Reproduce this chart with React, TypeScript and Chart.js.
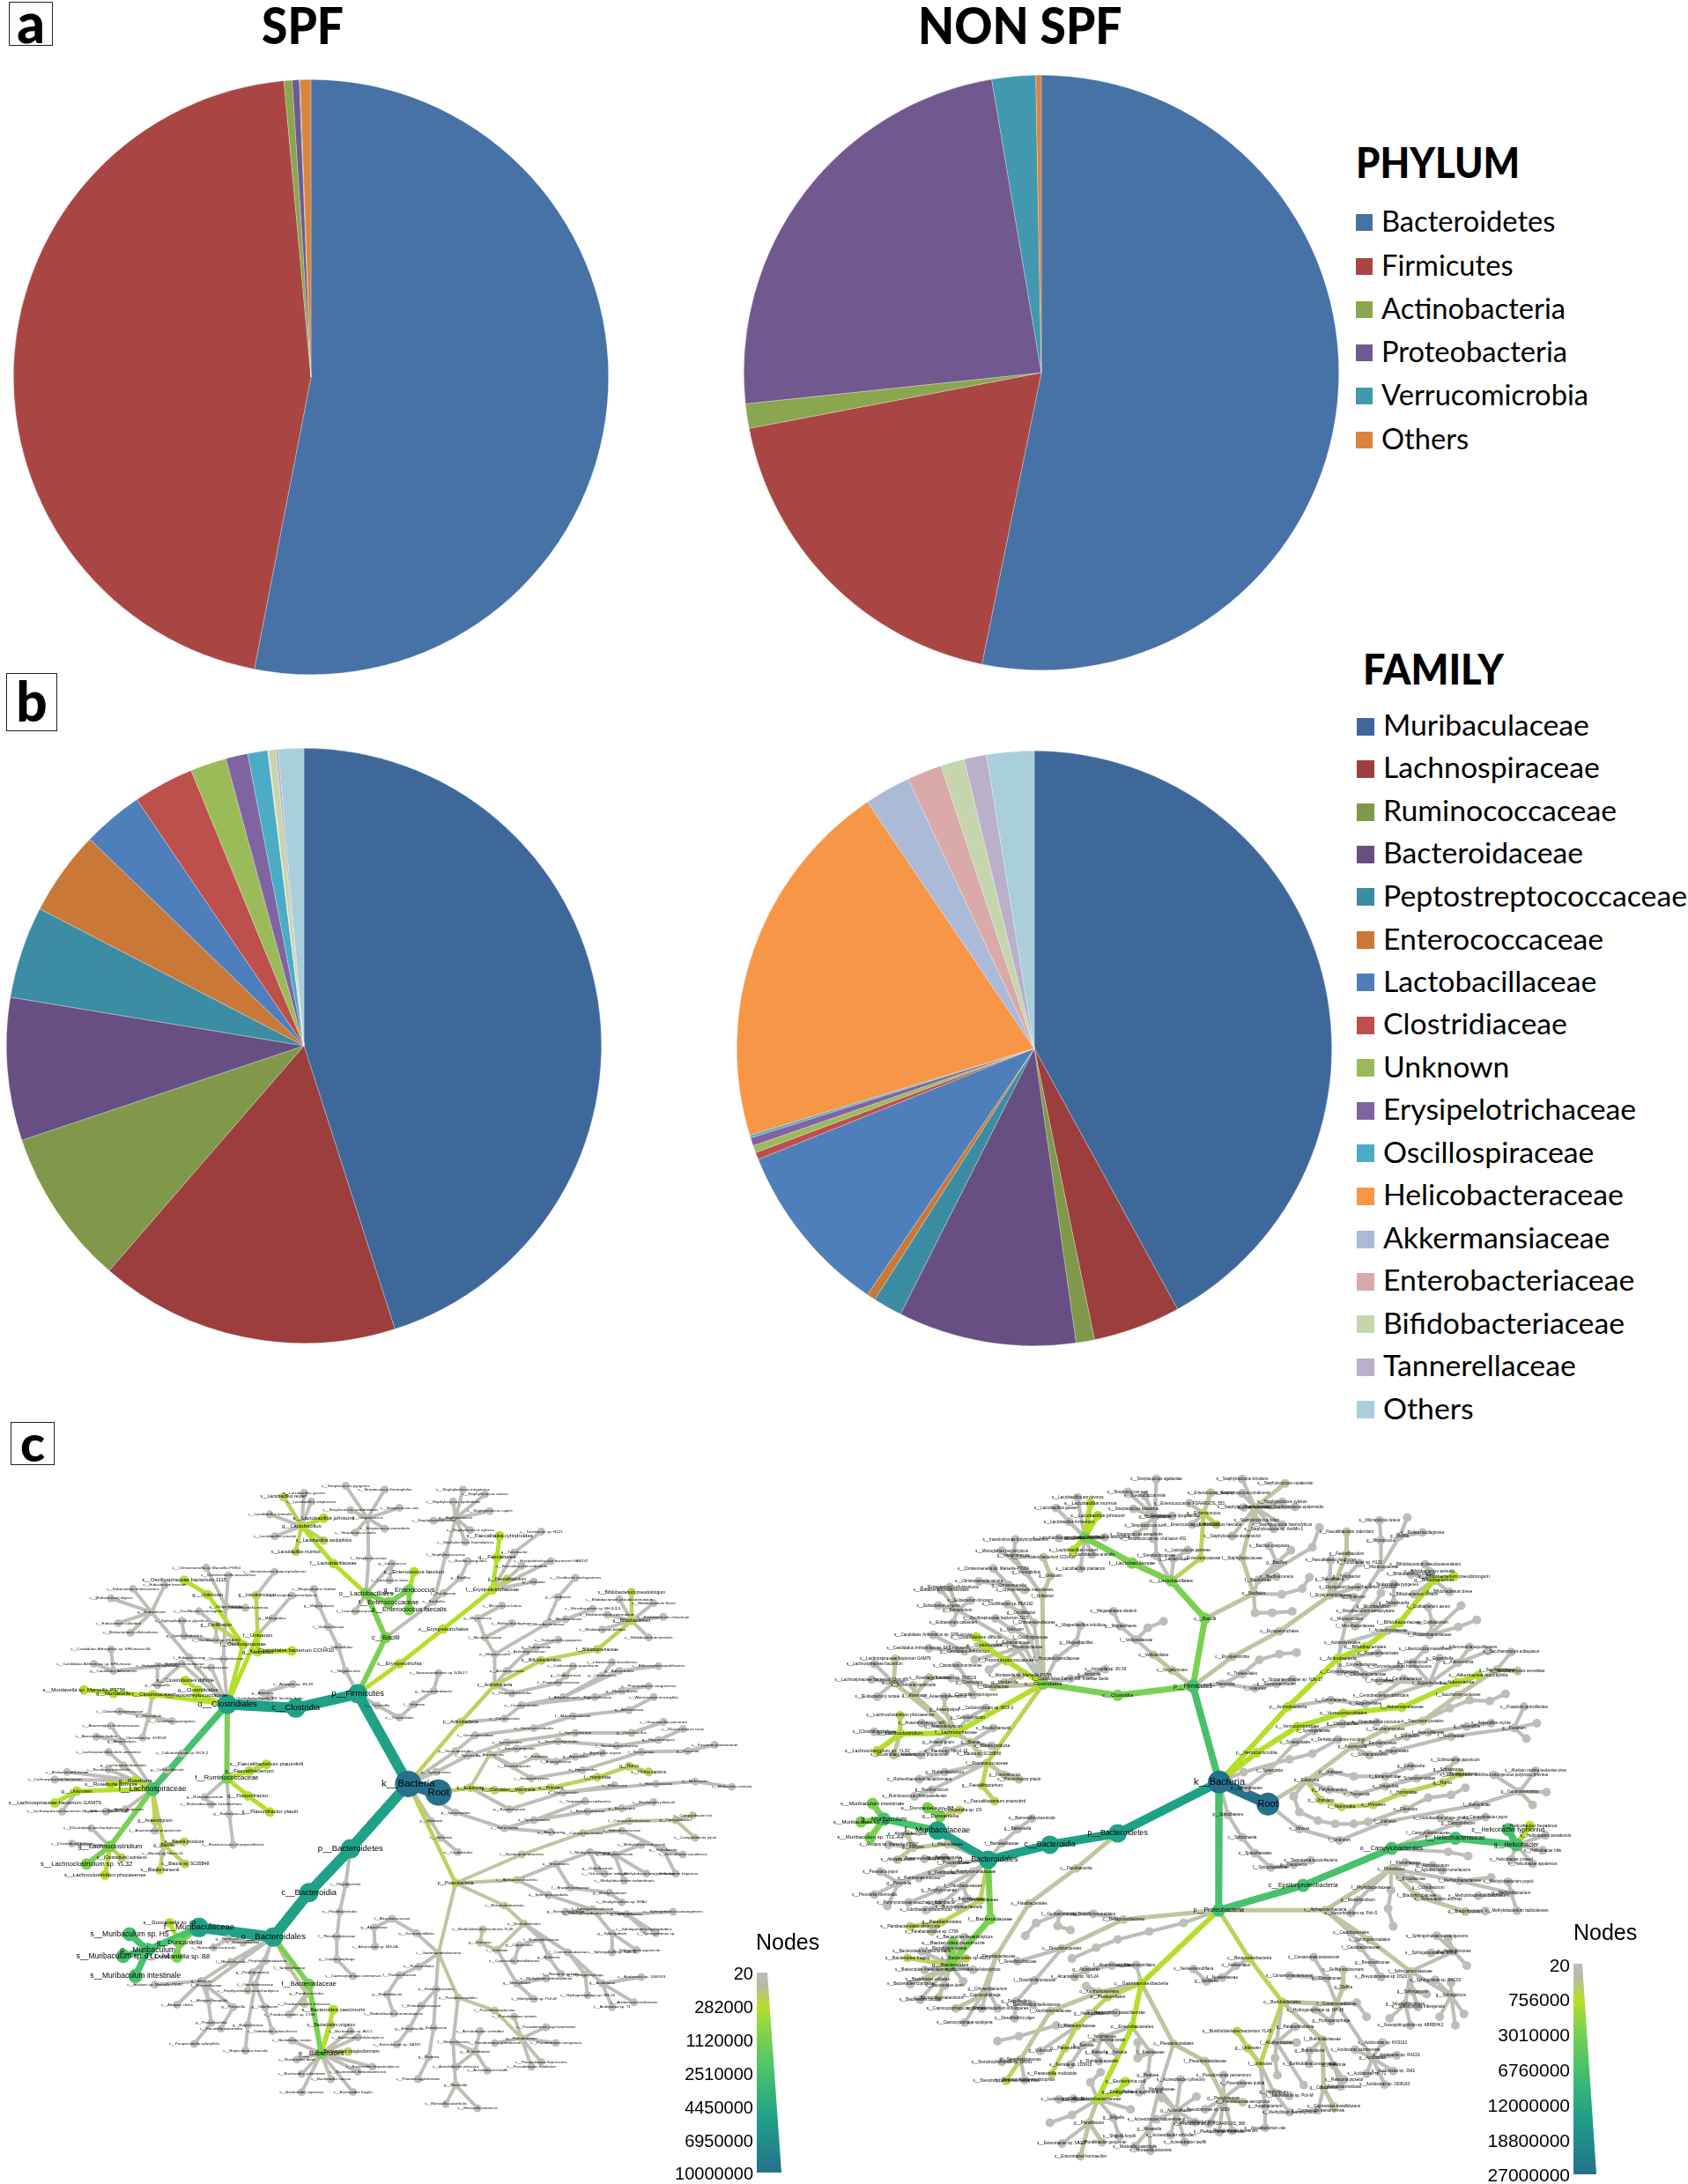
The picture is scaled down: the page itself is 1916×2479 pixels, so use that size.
import React, { useEffect, useRef } from "react";
import { Chart, registerables } from "chart.js";

Chart.register(...registerables);

/* ---------- pie data (percent of reads) ---------- */
const phylumLabels = ["Bacteroidetes", "Firmicutes", "Actinobacteria", "Proteobacteria", "Verrucomicrobia", "Others"];
const phylumSpf = [53.05, 45.5, 0.44, 0.38, 0.05, 0.58];
const phylumNonSpf = [53.2, 18.8, 1.33, 24.0, 2.37, 0.3];
const phylumColors = ["#4672A6", "#A94644", "#8AA64E", "#71588F", "#4198AF", "#DB843D"];

const familyLabels = ["Muribaculaceae", "Lachnospiraceae", "Ruminococcaceae", "Bacteroidaceae", "Peptostreptococcaceae", "Enterococcaceae", "Lactobacillaceae", "Clostridiaceae", "Unknown", "Erysipelotrichaceae", "Oscillospiraceae", "Helicobacteraceae", "Akkermansiaceae", "Enterobacteriaceae", "Bifidobacteriaceae", "Tannerellaceae", "Others"];
const familySpf = [45.06, 16.3, 8.5, 7.75, 5.0, 4.6, 3.3, 3.3, 1.96, 1.2, 1.08, 0.02, 0.02, 0.02, 0.38, 0.13, 1.38];
const familyNonSpf = [42.0, 4.75, 1.0, 9.67, 1.58, 0.47, 9.44, 0.39, 0.39, 0.44, 0.14, 20.25, 2.5, 1.9, 1.28, 1.22, 2.57];
const familyColors = ["#3F689A", "#9C3E3D", "#7F984A", "#684F83", "#3C8CA3", "#C97838", "#4F7FBB", "#BD4F4D", "#9BBB59", "#8064A2", "#4BACC6", "#F79646", "#AABAD7", "#D9AAA9", "#C6D6AC", "#BAB0C9", "#A9CEDC"];

/* ---------- colour key ---------- */
const spfKeyTicks = ["20", "282000", "1120000", "2510000", "4450000", "6950000", "10000000"];
const nonSpfKeyTicks = ["20", "756000", "3010000", "6760000", "12000000", "18800000", "27000000"];
const tierColors = ["#BEBEB8", "#C0C4A0", "#BFD05C", "#B5DE2B", "#7AD151", "#47C16E", "#1FA187", "#26708C"];

/* ---------- taxonomic trees: [label, x, y, abundance tier, children] ---------- */
type T = [string, number, number, number, T[]?];

const spfTree: T = ["Root", 870, 775, 7, [
  ["k__Bacteria", 808, 757, 7, [
    ["p__Firmicutes", 705, 568, 6, [
      ["c__Clostridia", 578, 598, 6, [
        ["o__Clostridiales", 438, 590, 6, [
          ["f__Lachnospiraceae", 285, 768, 5, [
            ["g__Lachnoclostridium", 198, 888, 4, [
              ["s__Lachnoclostridium sp. YL32", 150, 925, 4],
              ["s__Lachnoclostridium phocaeense", 188, 948, 3],
              ["s__[Clostridium] scindens", 222, 912, 2],
              ["s__[Clostridium] bolteae", 120, 882, 0],
              ["s__[Clostridium] saccharolyticum", 160, 850, 0]]],
            ["g__Blautia", 308, 885, 2, [
              ["s__Blautia hansenii", 300, 938, 2],
              ["s__Blautia sp. SC05B48", 352, 925, 2],
              ["s__Blautia producta", 350, 878, 2],
              ["s__Blautia sp. Nbm1-15", 305, 903, 0]]],
            ["g__Anaerotignum", 290, 835, 2, [["s__Anaerotignum propionicum", 290, 855, 0]]],
            ["g__Anaerobutyricum", 230, 810, 0, [["s__Anaerobutyricum hallii", 190, 815, 0]]],
            ["g__Unknown", 130, 772, 3, [
              ["s__Lachnospiraceae bacterium GAM79", 85, 797, 3],
              ["s__Lachnospiraceae bacterium Choco86", 100, 815, 0]]],
            ["g__Roseburia", 250, 750, 3, [
              ["s__Roseburia hominis", 200, 758, 3],
              ["s__Roseburia intestinalis", 195, 727, 0],
              ["s__[Eubacterium] rectale", 110, 732, 0],
              ["s__Lachnospiraceae bacterium", 85, 748, 0]]],
            ["g__Lachnoanaerobaculum", 225, 718, 0, [["s__Lachnoanaerobaculum umeaense", 195, 690, 0]]],
            ["g__Cellulosilyticum", 315, 728, 0, [["s__Cellulosilyticum sp. WCF-2", 345, 693, 0]]],
            ["g__Anaerostipes", 222, 668, 0, [
              ["s__Anaerostipes hadrus", 170, 658, 0],
              ["s__Anaerostipes rhamnosivorans", 200, 635, 0]]]]],
          ["f__Ruminococcaceae", 437, 745, 4, [
            ["g__Faecalibacterium", 483, 730, 3, [["s__Faecalibacterium prausnitzii", 518, 716, 3]]],
            ["g__Flavonifractor", 480, 782, 3, [["s__Flavonifractor plautii", 525, 816, 3]]],
            ["g__Ruthenibacterium", 392, 785, 0, [["s__Ruthenibacterium lactatiformans", 405, 800, 0]]],
            ["g__Ruminococcus", 442, 820, 0, [["s__Ruminococcus champanellensis", 450, 885, 0]]]]],
          ["f__Peptostreptococcaceae", 375, 572, 3, [
            ["g__Clostridioides", 378, 560, 3, [["s__Clostridioides difficile", 352, 540, 3]]]]],
          ["f__Clostridiaceae", 285, 570, 3, [
            ["g__Mordavella", 205, 567, 3, [["s__Mordavella sp. Marseille-P3756", 145, 560, 3]]],
            ["g__Clostridium", 277, 615, 0, [
              ["s__Clostridium bornimense", 218, 605, 0],
              ["s__Clostridium sporogenes", 325, 625, 0],
              ["s__Clostridium sp. SY8519", 265, 660, 0]]]]],
          ["Clostridiales Family XIII. Incertae Sedis", 525, 577, 0, [
            ["g__Aminipila", 510, 566, 0, [["s__Aminipila sp. JN-39", 572, 548, 0]]]]],
          ["f__Eubacteriaceae", 360, 492, 0, [
            ["g__Eubacterium", 283, 397, 0, [
              ["s__Eubacterium callanderi", 215, 420, 0],
              ["s__[Eubacterium] cellulosolvens", 240, 440, 0],
              ["s__[Eubacterium] eligens", 200, 368, 0],
              ["s__Eubacterium maltosivorans", 245, 348, 0],
              ["s__Eubacterium limosum", 310, 340, 0]]]]],
          ["f__Hungateiclostridiaceae", 345, 505, 0, [
            ["g__Hungatella", 295, 550, 0, [["s__Hungatella hathewayi", 295, 510, 0]]],
            ["g__Candidatus Arthromitus", 205, 520, 0, [
              ["s__Candidatus Arthromitus sp. SFB-mouse", 165, 505, 0],
              ["s__Candidatus Arthromitus sp. SFB-mouse-NL", 200, 475, 0]]]]],
          ["f__Peptococcaceae", 405, 513, 0],
          ["f__Christensenellaceae", 430, 495, 0, [
            ["g__Christensenella", 435, 385, 0, [
              ["s__Christensenella sp. Marseille-P3954", 395, 304, 0],
              ["s__Christensenella massiliensis", 440, 320, 0],
              ["s__Christensenella minuta", 475, 388, 0]]]]],
          ["f__Oscillospiraceae", 470, 465, 3, [
            ["g__Unknown", 398, 360, 3, [["s__Oscillospiraceae bacterium J115", 350, 330, 3]]],
            ["g__Oscillibacter", 415, 425, 2, [
              ["s__Oscillibacter valericigenes", 380, 395, 0],
              ["s__Oscillibacter sp. PEA192", 415, 455, 0]]],
            ["g__Syntrophobotulus", 350, 447, 0, [["s__Syntrophobotulus glycolicus", 345, 415, 0]]]]],
          ["f__Unknown", 500, 445, 3, [
            ["g__Intestinimonas", 497, 362, 2, [["s__Intestinimonas butyriciproducens", 535, 312, 0]]],
            ["g__Monoglobus", 530, 410, 0, [["s__Monoglobus pectinilyticus", 570, 362, 0]]],
            ["g__Unknown", 500, 480, 3, [["s__Clostridiales bacterium CCNA10", 570, 478, 3]]]]]]]]],
      ["c__Tissierellia", 745, 593, 0, [
        ["o__Tissierellales", 790, 618, 0, [
          ["f__Unknown", 820, 590, 0, [
            ["g__Sporanaerobacter", 860, 562, 0, [["s__Sporanaerobacter sp. NJN-17", 870, 525, 0]]]]]]]]],
      ["c__Negativicutes", 680, 520, 0, [
        ["o__Veillonellales", 665, 470, 0, [
          ["f__Veillonellaceae", 645, 428, 0, [
            ["g__Megasphaera", 625, 383, 0, [["s__Megasphaera elsdenii", 615, 348, 0]]]]]]]]],
      ["c__Erysipelotrichia", 790, 505, 3, [
        ["o__Erysipelotrichales", 880, 432, 3, [
          ["f__Erysipelotrichaceae", 980, 350, 3, [
            ["g__Faecalibaculum", 1010, 328, 2, [["s__Faecalibaculum rodentium", 1040, 300, 0]]],
            ["g__Faecalitalea", 990, 282, 3, [["s__Faecalitalea cylindroides", 995, 237, 3]]],
            ["g__Turicibacter", 1025, 272, 0, [["s__Turicibacter sp. H121", 1080, 228, 0]]],
            ["s__Erysipelotrichaceae bacterium GAM147", 1100, 290, 0],
            ["g__Unknown", 1065, 333, 0]]]]]]],
      ["c__Bacilli", 762, 450, 4, [
        ["o__Lactobacillales", 722, 358, 4, [
          ["f__Lactobacillaceae", 655, 295, 3, [
            ["g__Lactobacillus", 590, 217, 3, [
              ["s__Lactobacillus johnsonii", 635, 200, 3],
              ["s__Lactobacillus reuteri", 553, 155, 2],
              ["s__Lactobacillus gasseri", 595, 147, 0],
              ["s__Lactobacillus animalis", 525, 192, 0],
              ["s__Lactobacillus jensenii", 535, 238, 0],
              ["s__Lactobacillus acidophilus", 635, 247, 2],
              ["s__Lactobacillus murinus", 578, 270, 2],
              ["s__Lactobacillus amylovorus", 610, 165, 0]]]]],
          ["f__Enterococcaceae", 768, 377, 4, [
            ["g__Enterococcus", 810, 350, 4, [
              ["s__Enterococcus faecium", 820, 312, 3],
              ["s__Enterococcus faecalis", 810, 392, 4]]]]],
          ["f__Leuconostocaceae", 700, 395, 0],
          ["f__Streptococcaceae", 727, 284, 0, [
            ["g__Streptococcus", 725, 200, 0, [
              ["s__Streptococcus pyogenes", 680, 132, 0],
              ["s__Streptococcus thermophilus", 760, 140, 0],
              ["s__Streptococcus suis", 790, 178, 0],
              ["s__Streptococcus acidominimus", 690, 183, 0],
              ["s__Streptococcus oralis", 700, 230, 0],
              ["s__Streptococcus parauberis", 760, 222, 0]]]]],
          ["g__Lactococcus", 775, 295, 0, [["s__Lactococcus lactis", 770, 330, 0]]]]],
        ["o__Bacillales", 860, 375, 0, [
          ["f__Bacillaceae", 880, 357, 0, [
            ["g__Bacillus", 915, 325, 0, [["s__Bacillus coagulans", 930, 290, 0]]]]],
          ["f__Staphylococcaceae", 885, 277, 0, [
            ["g__Staphylococcus", 905, 200, 0, [
              ["s__Staphylococcus megaterius", 920, 140, 0],
              ["s__Staphylococcus aureus", 965, 150, 0],
              ["s__Staphylococcus capitis", 975, 185, 0],
              ["s__Staphylococcus sciuri", 860, 205, 0],
              ["s__Staphylococcus xylosus", 935, 225, 0],
              ["s__Staphylococcus epidermidis", 900, 165, 0],
              ["s__Staphylococcus haemolyticus", 925, 250, 0]]]]]]]]]]],
    ["p__Actinobacteria", 915, 628, 2, [
      ["c__Actinobacteria", 985, 550, 2, [
        ["o__Bifidobacteriales", 1080, 498, 2, [
          ["f__Bifidobacteriaceae", 1195, 475, 2, [
            ["g__Bifidobacterium", 1265, 415, 2, [
              ["s__Bifidobacterium pseudolongum", 1265, 355, 2],
              ["s__Bifidobacterium breve", 1310, 378, 0],
              ["s__Bifidobacterium choerinum", 1330, 407, 0],
              ["s__Bifidobacterium animalis", 1300, 450, 0],
              ["s__Bifidobacterium bifidum", 1205, 433, 0],
              ["s__Bifidobacterium catenulatum", 1215, 402, 0],
              ["s__Bifidobacterium pseudocatenulatum", 1240, 370, 0]]]]]]],
        ["o__Micrococcales", 985, 485, 0, [
          ["f__Microbacteriaceae", 1090, 422, 0, [
            ["g__Clavibacter", 1115, 365, 0, [["s__Clavibacter michiganensis", 1150, 325, 0]]],
            ["g__Microbacterium", 1130, 412, 0, [["s__Microbacterium sp. BH-3-3-3", 1185, 390, 0]]]]],
          ["f__Micrococcaceae", 965, 450, 0, [
            ["g__Micrococcus", 950, 410, 0, [["s__Micrococcus luteus", 1000, 383, 0]]],
            ["s__Rothia mucilaginosa", 1020, 420, 0]]]]],
        ["o__Actinomycetales", 1010, 520, 0, [
          ["f__Actinomycetaceae", 1050, 480, 0, [
            ["g__Tsukamurella", 1070, 470, 0, [["s__Tsukamurella pyogenes", 1115, 455, 0]]]]]]],
        ["o__Propionibacteriales", 1020, 567, 0, [
          ["f__Propionibacteriaceae", 1115, 545, 0, [
            ["g__Cutibacterium", 1130, 530, 0, [["s__Cutibacterium granulosum", 1145, 510, 0]]]]]]]]],
      ["c__Coriobacteriia", 1005, 620, 0, [
        ["o__Coriobacteriales", 1040, 592, 0, [
          ["f__Atopobiaceae", 1125, 575, 0, [
            ["g__Libanicoccus", 1205, 530, 0, [["s__Libanicoccus massiliensis", 1225, 502, 0]]],
            ["g__Adlercreutzia", 1240, 520, 0, [["s__Adlercreutzia equolifaciens", 1320, 510, 0]]]]],
          ["f__Eggerthellaceae", 1190, 575, 0, [
            ["g__Phoenicibacter", 1245, 562, 0, [["s__Phoenicibacter congonensis", 1300, 552, 0]]]]]]]]]]],
    ["p__Verrucomicrobia", 905, 688, 0, [
      ["c__Verrucomicrobiae", 945, 655, 0, [
        ["o__Verrucomicrobiales", 1065, 640, 0, [
          ["f__Akkermansiaceae", 1145, 615, 0, [
            ["g__Akkermansia", 1260, 602, 0, [["s__Akkermansia muciniphila", 1310, 575, 0]]]]]]]]]]],
    ["p__Synergistetes", 865, 732, 0, [
      ["c__Synergistia", 930, 698, 0, [
        ["o__Synergistales", 1010, 670, 0, [
          ["f__Synergistaceae", 1150, 650, 0, [
            ["g__Cloacibacillus", 1265, 650, 0, [["s__Cloacibacillus porcorum", 1330, 627, 0]]]]]]]]]]],
    ["p__Spirochaetes", 905, 817, 0, [
      ["c__Spirochaetia", 1005, 850, 0, [
        ["o__Spirochaetales", 1065, 833, 0, [
          ["s__Treponema succinifaciens", 1170, 793, 0],
          ["f__Brachyspiraceae", 1175, 815, 0, [
            ["g__Brachyspira", 1245, 808, 0, [["s__Brachyspira pilosicoli", 1310, 795, 0]]]]]]],
        ["g__Brachyspira", 1100, 858, 0]]]]],
    ["p__Unknown", 855, 835, 1, [
      ["c__Unknown", 875, 870, 0, [["o__Caudovirales", 910, 900, 0]]]]],
    ["p__Proteobacteria", 905, 965, 2, [
      ["c__Epsilonproteobacteria", 1040, 905, 1, [
        ["o__Campylobacterales", 1165, 860, 1, [
          ["f__Campylobacteraceae", 1260, 835, 1, [
            ["g__Campylobacter", 1355, 833, 1, [
              ["s__Campylobacter lari", 1390, 823, 1],
              ["s__Campylobacter jejuni", 1395, 870, 1]]]]],
          ["f__Helicobacteraceae", 1245, 855, 0, [
            ["g__Helicobacter", 1330, 895, 0, [
              ["s__Helicobacter canadensis", 1370, 905, 0],
              ["s__Helicobacter hepaticus", 1355, 945, 0]]]]]]]]],
      ["c__Alphaproteobacteria", 1030, 958, 1, [
        ["o__Rhizobiales", 1110, 925, 0, [
          ["f__Bradyrhizobiaceae", 1140, 975, 0, [
            ["g__Bradyrhizobium", 1220, 985, 0, [["s__Bradyrhizobium sp. BTAi1", 1245, 1005, 0]]]]],
          ["f__Methylobacteriaceae", 1180, 900, 0, [
            ["g__Methylobacterium", 1230, 905, 0, [
              ["s__Methylobacterium populi", 1285, 885, 0],
              ["s__Methylobacterium brachiatum", 1295, 945, 0],
              ["s__Methylobacterium radiotolerans", 1250, 960, 0]]],
            ["g__Ochrobactrum", 1195, 935, 0, [["s__Ochrobactrum anthropi", 1210, 945, 0]]]]]]],
        ["o__Sphingomonadales", 1095, 990, 0, [
          ["f__Sphingomonadaceae", 1185, 1020, 0, [
            ["g__Sphingomonas", 1255, 1030, 0, [
              ["s__Sphingomonas sanxanigenens", 1350, 1025, 0],
              ["s__Sphingomonas hydrophobica", 1290, 1062, 0],
              ["s__Sphingomonas sp.", 1315, 1070, 0]]],
            ["g__Sphingobium", 1225, 1070, 0, [
              ["s__Sphingobium japonicum", 1275, 1105, 0],
              ["s__Sphingobium sp. RAD02", 1225, 1110, 0]]],
            ["g__Novosphingobium", 1130, 1025, 0, [["s__Novosphingobium pentaromativorans", 1195, 1028, 0]]]]]]]]],
      ["c__Betaproteobacteria", 1005, 1012, 1, [
        ["o__Burkholderiales", 1045, 1050, 1, [
          ["f__Burkholderiaceae", 1080, 1083, 0, [
            ["g__Cupriavidus", 1035, 1095, 0, [["s__Cupriavidus metallidurans", 1025, 1128, 0]]],
            ["g__Ralstonia", 1095, 1120, 0, [["s__Ralstonia pickettii", 1120, 1155, 0]]]]],
          ["f__Comamonadaceae", 1135, 1110, 0, [
            ["g__Acidovorax", 1205, 1175, 0, [
              ["s__Acidovorax sp. 1008163", 1285, 1162, 0],
              ["s__Acidovorax carolinensis", 1270, 1215, 0],
              ["s__Acidovorax sp. T1", 1225, 1225, 0]]],
            ["g__Hydrogenophaga", 1170, 1157, 0, [["s__Hydrogenophaga sp. NH-16", 1175, 1200, 0]]]]],
          ["f__Unknown", 990, 1105, 1, [
            ["g__Unknown", 955, 1090, 1, [["s__Burkholderiales bacterium YL45", 960, 1062, 1]]],
            ["g__Methylibium", 1030, 1175, 0, [
              ["s__Methylibium sp. Pch-M", 1065, 1208, 0],
              ["s__Methylibium petroleiphilum", 1090, 1165, 0]]]]]]]]],
      ["c__Gammaproteobacteria", 870, 1112, 1, [
        ["o__Pseudomonadales", 910, 1205, 1, [
          ["f__Pseudomonadaceae", 985, 1232, 1, [
            ["g__Pseudomonas", 1040, 1290, 1, [
              ["s__Pseudomonas stutzeri", 1025, 1245, 0],
              ["s__Pseudomonas aeruginosa", 1110, 1300, 0],
              ["s__Pseudomonas yamanorum", 985, 1300, 0],
              ["s__Pseudomonas fluorescens", 1080, 1340, 0],
              ["s__Pseudomonas rhodesiae", 1060, 1350, 0],
              ["s__Pseudomonas psychrotolerans", 1090, 1267, 0]]]]],
          ["f__Moraxellaceae", 900, 1298, 0, [
            ["g__Acinetobacter", 945, 1318, 0, [
              ["s__Acinetobacter schindleri", 955, 1275, 0],
              ["s__Acinetobacter johnsonii", 905, 1350, 0],
              ["s__Acinetobacter lwoffii", 970, 1358, 0]]],
            ["g__Moraxella", 905, 1388, 0, [
              ["s__Moraxella catarrhalis", 885, 1428, 0],
              ["s__Moraxella osloensis", 950, 1437, 0]]]]]]],
        ["o__Enterobacterales", 865, 1187, 0, [
          ["f__Enterobacteriaceae", 835, 1222, 0, [
            ["g__Enterobacter", 810, 1270, 0, [["s__Enterobacter sp. SA187", 785, 1303, 0]]]]],
          ["f__Erwiniaceae", 860, 1268, 0, [
            ["g__Pantoea", 850, 1330, 0, [["s__Pantoea agglomerans", 828, 1376, 0]]]]]]],
        ["o__Pasteurellales", 830, 1140, 0, [
          ["f__Pasteurellaceae", 790, 1158, 0, [
            ["g__Rodentibacter", 765, 1198, 0, [["s__Rodentibacter pneumotropicus", 778, 1238, 0]]]]]]],
        ["o__Oceanospirillales", 825, 1070, 0, [
          ["f__Alcanivoracaceae", 775, 1040, 0, [
            ["g__Alcanivorax", 738, 1058, 0, [["s__Alcanivorax sp. NI3-2A", 740, 1098, 0]]]]]]]]]]],
    ["p__Bacteroidetes", 690, 893, 6, [
      ["c__Flavobacteriia", 680, 968, 0, [
        ["o__Flavobacteriales", 668, 1025, 0, [
          ["f__Flavobacteriaceae", 662, 1077, 0, [
            ["g__Capnocytophaga", 662, 1125, 0, [["s__Capnocytophaga canimorsus", 695, 1160, 0]]]]]]]]],
      ["c__Bacteroidia", 605, 985, 6, [
        ["o__Bacteroidales", 532, 1078, 6, [
          ["f__Muribaculaceae", 380, 1058, 6, [
            ["g__Muribaculum", 275, 1105, 5, [
              ["s__Muribaculum sp. H5", 238, 1072, 5],
              ["s__Muribaculum sp. TLL-A4", 225, 1118, 5],
              ["s__Muribaculum intestinale", 250, 1160, 5]]],
            ["g__Duncaniella", 340, 1090, 4, [
              ["s__Duncaniella sp. C9", 320, 1048, 3],
              ["s__Duncaniella sp. B8", 335, 1120, 4]]]]],
          ["f__Barnesiellaceae", 470, 1090, 0, [
            ["g__Barnesiella", 440, 1082, 0, [["s__Barnesiella viscericola", 410, 1100, 0]]]]],
          ["f__Rikenellaceae", 445, 1130, 0, [
            ["g__Alistipes", 385, 1170, 0, [
              ["s__Alistipes sp. Marseille-P5997", 290, 1178, 0],
              ["s__Alistipes shahii", 335, 1220, 0],
              ["s__Alistipes finegoldii", 400, 1212, 0]]]]],
          ["f__Porphyromonadaceae", 515, 1128, 0, [
            ["g__Porphyromonas", 490, 1152, 0, [["s__Porphyromonas asaccharolytica", 480, 1190, 0]]]]],
          ["f__Prevotellaceae", 395, 1180, 0, [
            ["g__Prevotella", 450, 1225, 0, [["s__Prevotella intermedia", 425, 1270, 0]]],
            ["g__Paraprevotella", 405, 1258, 0, [["s__Paraprevotella xylaniphila", 370, 1302, 0]]]]],
          ["f__Odoribacteraceae", 495, 1178, 0, [
            ["g__Odoribacter", 515, 1225, 0, [["s__Odoribacter splanchnicus", 530, 1275, 0]]],
            ["g__Butyricimonas", 480, 1262, 0, [["s__Butyricimonas faecalis", 475, 1316, 0]]]]],
          ["f__Tannerellaceae", 565, 1142, 1, [
            ["g__Parabacteroides", 600, 1197, 1, [
              ["s__Parabacteroides distasonis", 595, 1218, 1],
              ["s__Parabacteroides sp. CT06", 565, 1240, 0]]]]],
          ["f__Bacteroidaceae", 605, 1177, 4, [
            ["g__Bacteroides", 630, 1322, 4, [
              ["s__Bacteroides caecimuris", 655, 1230, 3],
              ["s__Bacteroides vulgatus", 650, 1262, 2],
              ["s__Bacteroides sp. A1C1", 690, 1275, 0],
              ["s__Bacteroides cellulosilyticus", 705, 1288, 0],
              ["s__Bacteroides zoogleoformans", 685, 1318, 2],
              ["s__Bacteroides heparinolyticus", 735, 1350, 0],
              ["s__Bacteroides thetaiotaomicron", 705, 1360, 0],
              ["s__Bacteroides caccae", 650, 1376, 0],
              ["s__Bacteroides fragilis", 695, 1403, 0],
              ["s__Bacteroides coprosuis", 590, 1403, 0],
              ["s__Bacteroides salanitronis", 590, 1365, 0],
              ["s__Bacteroides dorei", 580, 1335, 0],
              ["s__Bacteroides ovatus", 570, 1295, 0]]]]]]]]]]]]],
  ["k__Eukaryota", 935, 765, 2, [
    ["p__Ascomycota", 975, 695, 1, [
      ["c__Saccharomycetes", 1030, 683, 0, [
        ["o__Saccharomycetales", 1115, 668, 0, [
          ["f__Saccharomycetaceae", 1235, 677, 0, [
            ["g__Kluyveromyces", 1320, 665, 0, [["s__Kluyveromyces lactis", 1370, 642, 0]]]]]]]]],
      ["c__Eurotiomycetes", 1025, 720, 0, [
        ["o__Eurotiales", 1070, 700, 0, [
          ["f__Aspergillaceae", 1110, 710, 0, [
            ["g__Aspergillus", 1150, 700, 0, [["s__Aspergillus oryzae", 1205, 692, 0]]]]]]]]],
      ["c__Sordariomycetes", 1060, 745, 0, [
        ["o__Hypocreales", 1165, 728, 0, [
          ["f__Nectriaceae", 1285, 690, 0, [
            ["g__Fusarium", 1380, 688, 0, [["s__Fusarium graminearum", 1435, 675, 0]]]]]]]]]]],
    ["p__Chordata", 985, 770, 2, [
      ["c__Mammalia", 1040, 770, 2, [
        ["o__Primates", 1100, 765, 2, [
          ["f__Hominidae", 1195, 743, 2, [
            ["g__Homo", 1260, 720, 2, [["s__Homo sapiens", 1300, 732, 2]]]]]]]]]]],
    ["p__Basidiomycota", 1015, 810, 0, [
      ["o__Malasseziales", 1125, 775, 0, [
        ["s__Malassezia", 1230, 760, 0],
        ["f__Malasseziaceae", 1315, 757, 0, [
          ["g__Malassezia", 1395, 752, 0, [["s__Malassezia restricta", 1470, 763, 0]]]]]]]]]]]]];

const nonSpfTree: T = ["Root", 1530, 1162, 7, [
  ["k__Bacteria", 1360, 1085, 7, [
    ["p__Firmicutes", 1268, 748, 5, [
      ["c__Clostridia", 1005, 780, 4, [
        ["o__Clostridiales", 745, 740, 4, [
          ["f__Lachnospiraceae", 440, 912, 3, [
            ["g__Lachnoclostridium", 245, 915, 3, [
              ["s__Lachnoclostridium sp. YL32", 165, 975, 3],
              ["s__[Clostridium] scindens", 222, 990, 1],
              ["s__Lachnoclostridium phocaeense", 245, 850, 2],
              ["s__[Clostridium] bolteae", 155, 908, 0]]],
            ["g__Anaerobutyricum", 395, 890, 1, [["s__Anaerobutyricum hallii", 320, 878, 0]]],
            ["g__Anaerotignum", 378, 945, 0, [["s__Anaerotignum propionicum", 318, 990, 0]]],
            ["g__Blautia", 490, 945, 1, [
              ["s__Blautia hansenii", 570, 895, 0],
              ["s__Blautia producta", 565, 958, 0],
              ["s__Blautia sp. SC05B48", 520, 985, 1],
              ["s__Blautia sp. Nbm1-15", 405, 975, 0]]],
            ["g__Cellulosilyticum", 480, 860, 0, [["s__Cellulosilyticum sp. WCF-2", 545, 825, 0]]],
            ["g__Anaerostipes", 400, 832, 1, [["s__Anaerostipes hadrus", 400, 785, 0]]],
            ["g__Roseburia", 295, 780, 1, [
              ["s__Roseburia intestinalis", 290, 745, 1],
              ["s__Roseburia hominis", 347, 718, 1]]],
            ["g__Unknown", 222, 735, 1, [
              ["s__Lachnospiraceae bacterium GAM79", 228, 652, 1],
              ["s__Lachnospiraceae bacterium", 155, 670, 0],
              ["s__Lachnospiraceae bacterium Choco86", 145, 725, 0],
              ["s__[Eubacterium] rectale", 165, 785, 0]]]]],
          ["f__Ruminococcaceae", 548, 1018, 2, [
            ["g__Faecalibacterium", 532, 1098, 2, [["s__Faecalibacterium prausnitzii", 575, 1152, 2]]],
            ["g__Flavonifractor", 610, 1060, 1, [["s__Flavonifractor plautii", 660, 1075, 1]]],
            ["g__Ruthenibacterium", 400, 1050, 0, [["s__Ruthenibacterium lactatiformans", 312, 1075, 0]]],
            ["g__Ruminococcus", 355, 1112, 0, [["s__Ruminococcus champanellensis", 295, 1135, 0]]]]],
          ["f__Clostridiaceae", 570, 750, 1, [
            ["g__Mordavella", 610, 735, 1, [["s__Mordavella sp. Marseille-P3756", 665, 710, 1]]],
            ["g__Clostridium", 485, 735, 0, [
              ["s__Clostridium bornimense", 445, 675, 0],
              ["s__Clostridium sp. SY8519", 425, 720, 0],
              ["s__Clostridium sporogenes", 500, 778, 0]]]]],
          ["f__Peptostreptococcaceae", 615, 658, 3, [
            ["g__Clostridioides", 538, 605, 3, [["s__Clostridioides difficile", 510, 575, 3]]]]],
          ["f__Eubacteriaceae", 640, 595, 0, [
            ["g__Eubacterium", 445, 480, 0, [
              ["s__Eubacterium callanderi", 430, 525, 0],
              ["s__Eubacterium eligens", 378, 465, 0],
              ["s__Eubacterium limosum", 490, 447, 0],
              ["s__[Eubacterium] cellulosolvens", 418, 400, 0],
              ["s__Eubacterium maltosivorans", 388, 410, 0]]],
            ["g__Candidatus Arthromitus", 470, 625, 0, [
              ["s__Candidatus Arthromitus sp. SFB-mouse", 360, 568, 0],
              ["s__Candidatus Arthromitus sp. SFB-mouse-NL", 345, 615, 0]]]]],
          ["f__Hungateiclostridiaceae", 790, 650, 0, [
            ["g__Mageeibacillus", 860, 595, 0, [["s__Mageeibacillus indolicus", 875, 535, 0]]]]],
          ["f__Clostridiales Family XIII. Incertae Sedis", 840, 722, 0, [
            ["g__Aminipila", 905, 708, 0, [["s__Aminipila sp. JN-39", 962, 688, 0]]]]],
          ["f__Peptococcaceae", 680, 610, 0, [
            ["", 555, 690, 0], ["", 505, 655, 0]]],
          ["f__Oscillospiraceae", 700, 578, 0, [
            ["g__Oscillibacter", 668, 490, 0, [["s__Oscillibacter sp. PEA192", 620, 460, 0]]],
            ["g__Unknown", 635, 548, 0, [["s__Oscillospiraceae bacterium J115", 578, 510, 0]]]]],
          ["f__Christensenellaceae", 712, 525, 0, [
            ["g__Christensenella", 625, 393, 0, [
              ["s__Christensenella minuta", 520, 380, 0],
              ["s__Christensenella sp. Marseille-P2954", 570, 335, 0],
              ["s__Christensenella massiliensis", 680, 410, 0]]]]],
          ["f__Unknown", 742, 430, 1, [
            ["g__Unknown", 770, 360, 1, [["s__Clostridiales bacterium CCNA10", 745, 295, 1]]],
            ["g__Monoglobus", 685, 347, 0, [["s__Monoglobus pectinilyticus", 600, 272, 0]]],
            ["g__Intestinimonas", 640, 290, 0, [["s__Intestinimonas butyriciproducens", 648, 232, 0]]]]]]]]],
      ["c__Negativicutes", 1195, 692, 1, [
        ["o__Veillonellales", 1130, 638, 1, [
          ["f__Veillonellaceae", 1070, 585, 0, [
            ["g__Megasphaera", 1015, 538, 0, [["s__Megasphaera elsdenii", 990, 485, 0]]],
            ["", 1110, 543, 0, [["", 1165, 520, 0]]]]]]]]],
      ["c__Tissierellia", 1370, 740, 0, [
        ["o__Tissierellales", 1440, 705, 0, [
          ["", 1500, 655, 0, [["", 1570, 635, 0, [["", 1630, 630, 0]]]]]]],
        ["f__Unknown", 1485, 755, 0, [
          ["g__Sporanaerobacter", 1560, 740, 0, [["s__Sporanaerobacter sp. NJN-17", 1615, 725, 0]]]]]]],
      ["c__Bacilli", 1310, 510, 4, [
        ["o__Lactobacillales", 1192, 378, 4, [
          ["f__Lactobacillaceae", 1055, 315, 4, [
            ["g__Lactobacillus", 890, 225, 4, [
              ["s__Lactobacillus murinus", 910, 105, 3],
              ["s__Lactobacillus johnsonii", 935, 148, 3],
              ["s__Lactobacillus reuteri", 850, 270, 3],
              ["s__Lactobacillus amylovorus", 865, 85, 0],
              ["s__Lactobacillus gasseri", 790, 122, 0],
              ["s__Lactobacillus fermentum", 835, 170, 0],
              ["s__Lactobacillus paragasseri", 800, 228, 0],
              ["s__Lactobacillus acidophilus", 960, 225, 0],
              ["s__Lactobacillus plantarum", 875, 335, 0],
              ["s__Lactobacillus animalis", 915, 285, 0]]]]],
          ["f__Streptococcaceae", 1140, 290, 0, [
            ["g__Streptococcus", 1135, 152, 0, [
              ["s__Streptococcus agalactiae", 1140, 20, 0],
              ["s__Streptococcus equi", 1040, 65, 0],
              ["s__Streptococcus mitis", 1100, 80, 0],
              ["s__Streptococcus salivarius", 1060, 125, 0],
              ["s__Streptococcus suis", 1100, 185, 0],
              ["s__Streptococcus parauberis", 1070, 215, 0],
              ["s__Streptococcus dysgalactiae", 1195, 150, 0],
              ["s__Streptococcus sp. oral taxon 431", 1130, 230, 0]]]]],
          ["g__Lactococcus", 1200, 300, 0, [["s__Lactococcus garvieae", 1250, 270, 0]]],
          ["f__Enterococcaceae", 1295, 298, 2, [
            ["g__Enterococcus", 1305, 140, 2, [
              ["s__Enterococcus faecium", 1330, 68, 1],
              ["s__Enterococcus faecalis", 1350, 180, 2],
              ["s__Enterococcus sp. FDAARGOS_553", 1255, 105, 0],
              ["s__Enterococcus sp. M190262", 1265, 180, 0]]]]]]],
        ["o__Bacillales", 1480, 423, 1, [
          ["f__Staphylococcaceae", 1440, 297, 1, [
            ["g__Staphylococcus", 1485, 120, 1, [
              ["s__Staphylococcus simulans", 1440, 20, 0],
              ["s__Staphylococcus nepalensis", 1590, 35, 1],
              ["s__Staphylococcus condimenti", 1440, 70, 0],
              ["s__Staphylococcus xylosus", 1580, 100, 0],
              ["s__Staphylococcus equorum", 1445, 120, 0],
              ["s__Staphylococcus sciuri", 1490, 165, 0],
              ["s__Staphylococcus epidermidis", 1625, 118, 0],
              ["s__Staphylococcus haemolyticus", 1580, 180, 0],
              ["s__Staphylococcus sp. AntiMn-1", 1550, 195, 0],
              ["s__Staphylococcus stepanovicii", 1405, 220, 0]]]]],
          ["f__Bacillaceae", 1495, 375, 0, [
            ["g__Bacillus", 1560, 315, 0, [
              ["s__Bacillus coagulans", 1535, 255, 0],
              ["", 1610, 270, 0]]],
            ["s__Bacillus cereus", 1560, 363, 0],
            ["", 1685, 260, 0, [["", 1710, 190, 0]]]]],
          ["", 1578, 425, 0, [["", 1650, 405, 0, [["", 1675, 365, 0]]]]],
          ["", 1485, 490, 0, [["", 1545, 490, 0, [["", 1615, 485, 0]]]]]]]]],
      ["c__Erysipelotrichia", 1405, 645, 1, [
        ["o__Erysipelotrichales", 1570, 555, 1, [
          ["f__Erysipelotrichaceae", 1748, 428, 1, [
            ["g__Faecalibaculum", 1805, 282, 1, [["s__Faecalibaculum rodentium", 1805, 205, 1]]],
            ["g__Faecalitalea", 1745, 373, 0, [["s__Faecalitalea cylindroides", 1750, 305, 0]]],
            ["g__Turicibacter", 1805, 362, 0, [["s__Turicibacter sp. H121", 1850, 315, 0]]],
            ["s__Erysipelotrichaceae bacterium GAM147", 1845, 400, 0],
            ["g__Unknown", 1830, 435, 0]]]]]]]]],
    ["p__Actinobacteria", 1600, 820, 3, [
      ["c__Actinobacteria", 1775, 650, 3, [
        ["o__Bifidobacteriales", 1870, 610, 3, [
          ["f__Bifidobacteriaceae", 1990, 525, 3, [
            ["g__Bifidobacterium", 2110, 375, 3, [
              ["s__Bifidobacterium pseudolongum", 2180, 362, 3],
              ["s__Bifidobacterium pseudocatenulatum", 2080, 320, 0],
              ["s__Bifidobacterium animalis", 2095, 345, 0],
              ["s__Bifidobacterium longum", 2030, 355, 0],
              ["s__Bifidobacterium bifidum", 2040, 425, 0],
              ["s__Bifidobacterium breve", 2165, 417, 0]]]]]]],
        ["o__Micrococcales", 1805, 513, 0, [
          ["f__Micrococcaceae", 1925, 330, 0, [
            ["g__Rothia", 1990, 222, 0, [
              ["s__Rothia mucilaginosa", 2070, 208, 0],
              ["", 2017, 155, 0]]],
            ["g__Micrococcus", 1925, 235, 0, [["s__Micrococcus luteus", 1920, 165, 0]]]]],
          ["f__Microbacteriaceae", 1835, 537, 0, [
            ["g__Microbacterium", 1900, 468, 0, [
              ["s__Microbacterium paraoxydans", 1870, 485, 0],
              ["", 1925, 420, 0]]]]],
          ["g__Tsukamurella", 1970, 455, 0, [["s__Tsukamurella pyogenes", 1970, 390, 0]]]]],
        ["o__Actinomycetales", 1790, 597, 0, [
          ["f__Actinomycetaceae", 1950, 552, 0, [
            ["f__Propionibacteriaceae", 2095, 568, 0, [
              ["g__Cutibacterium", 2105, 525, 0, [["s__Cutibacterium acnes", 2090, 470, 0]]],
              ["", 2195, 540, 0, [["", 2260, 515, 0]]],
              ["", 2205, 465, 0]]]]]]],
        ["o__Propionibacteriales", 1915, 632, 0],
        ["c__Corynebacteriales", 1780, 697, 0, [
          ["f__Corynebacteriaceae", 1870, 708, 0, [
            ["g__Corynebacterium", 1845, 672, 0],
            ["s__Corynebacterium humireducens", 1990, 680, 0]]]]]]],
      ["c__Coriobacteriia", 1750, 797, 0, [
        ["o__Eggerthellales", 1870, 810, 0, [
          ["f__Eggerthellaceae", 2095, 737, 0, [
            ["g__Eggerthella", 2130, 650, 0],
            ["g__Adlercreutzia", 2195, 665, 0, [
              ["s__Adlercreutzia equolifaciens", 2235, 610, 0],
              ["", 2300, 625, 0]]],
            ["g__Libanicoccus", 2035, 665, 0, [["s__Libanicoccus massiliensis", 2080, 618, 0]]],
            ["f__Hopozaceae", 1920, 730, 0],
            ["g__Centrobacterium", 2005, 722, 0, [["s__Centrobacterium doloticans", 1925, 780, 0]]]]]]]]]]],
    ["p__Verrucomicrobia", 1490, 982, 3, [
      ["c__Verrucomicrobiae", 1633, 890, 3, [
        ["o__Verrucomicrobiales", 1793, 843, 3, [
          ["f__Akkermansiaceae", 1998, 822, 3, [
            ["g__Akkermansia", 2190, 735, 3, [["s__Akkermansia muciniphila", 2265, 710, 3]]]]]]]]]]],
    ["p__Synergistetes", 1455, 1105, 0, [
      ["c__Synergistia", 1535, 1045, 0, [
        ["o__Synergistales", 1625, 945, 0, [
          ["f__Synergistaceae", 1690, 905, 0, [
            ["g__Cloacibacillus", 1790, 880, 0, [["s__Cloacibacillus porcorum", 1910, 875, 0]]]]]]]]]]],
    ["", 1445, 1050, 0, [
      ["", 1605, 1005, 0, [
        ["", 1685, 985, 0, [["s__Dehalococcoides mccartyi", 1775, 935, 0]]]]]]],
    ["p__Spirochaetes", 1390, 1200, 0, [
      ["c__Spirochaetia", 1440, 1280, 0, [
        ["o__Spirochaetales", 1485, 1335, 0, [
          ["f__Spirochaetaceae", 1540, 1385, 0, [
            ["g__Treponema", 1620, 1375, 0, [["s__Treponema succinifaciens", 1680, 1360, 0]]]]]]]]]]],
    ["p__Proteobacteria", 1358, 1535, 5, [
      ["c__Epsilonproteobacteria", 1653, 1448, 5, [
        ["o__Campylobacterales", 1962, 1318, 5, [
          ["f__Helicobacteraceae", 2185, 1282, 5, [
            ["g__Helicobacter", 2398, 1305, 5, [
              ["s__Helicobacter typhlonius", 2370, 1252, 5],
              ["s__Helicobacter hepaticus", 2445, 1238, 3],
              ["s__Helicobacter canadensis", 2500, 1272, 0],
              ["s__Helicobacter bilis", 2490, 1325, 0],
              ["s__Helicobacter cinaedi", 2380, 1358, 0],
              ["s__Helicobacter apodemus", 2455, 1372, 0]]]]],
          ["f__Campylobacteraceae", 2090, 1265, 0, [
            ["g__Campylobacter", 2195, 1230, 0, [
              ["s__Campylobacter jejuni", 2290, 1208, 0],
              ["s__Lactobacillus phage phiadh", 2135, 1212, 0]]]]],
          ["", 2160, 1330, 0, [["", 2230, 1345, 0]]]]]]],
      ["c__Alphaproteobacteria", 1730, 1535, 1, [
        ["o__Rhizobiales", 1960, 1390, 1, [
          ["f__Rhizobiaceae", 2010, 1368, 0, [
            ["g__Agrobacterium", 2105, 1378, 0, [["s__Agrobacterium tumefaciens", 2140, 1395, 0]]]]],
          ["f__Brucellaceae", 2030, 1425, 0, [
            ["g__Ochrobactrum", 2090, 1455, 0, [["s__Ochrobactrum anthropi", 2125, 1495, 0]]]]],
          ["f__Methylobacteriaceae", 2200, 1432, 0, [
            ["g__Methylobacterium", 2380, 1475, 0, [
              ["s__Methylobacterium radiotolerans", 2400, 1537, 0],
              ["s__Methylobacterium brachiatum", 2265, 1485, 0],
              ["s__Methylobacterium populi", 2370, 1435, 0]]],
            ["", 2310, 1420, 0]]],
          ["f__Phyllobacteriaceae", 1890, 1455, 0, [
            ["g__Mesorhizobium", 1845, 1500, 0, [["s__Mesorhizobium sp. Pch-S", 1820, 1545, 0]]]]],
          ["f__Bradyrhizobiaceae", 2050, 1485, 1, [
            ["g__Bradyrhizobium", 2220, 1540, 1, [["", 2290, 1538, 0]]]]],
          ["", 1960, 1465, 0, [["", 1950, 1530, 0, [["", 1968, 1592, 0]]]]]]],
        ["o__Caulobacterales", 1820, 1615, 0, [
          ["f__Caulobacteraceae", 1855, 1667, 0, [
            ["g__Brevundimonas", 1895, 1720, 0, [["s__Brevundimonas sp. DS20", 1925, 1770, 0]]]]]]],
        ["o__Sphingomonadales", 1885, 1640, 1, [
          ["f__Sphingomonadaceae", 2028, 1750, 1, [
            ["g__Sphingomonas", 2180, 1680, 0, [
              ["s__Sphingomonas sp. MM-1", 2100, 1685, 0],
              ["s__Sphingomonas sanxanigenens", 2120, 1625, 0],
              ["", 2160, 1635, 0],
              ["", 2225, 1730, 0]]],
            ["g__Sphingobium", 2170, 1835, 0, [
              ["s__Sphingobium sp. RAC03", 2115, 1780, 0],
              ["", 2130, 1910, 0],
              ["", 2185, 1940, 0],
              ["", 2215, 1900, 0],
              ["", 2170, 1790, 0]]],
            ["g__Novosphingobium", 2010, 1865, 0, [
              ["s__Novosphingobium sp. ABRDHK2", 2028, 1940, 0],
              ["", 1955, 1915, 0]]],
            ["g__Sphingopyxis", 2035, 1820, 0, [
              ["", 2085, 1830, 0],
              ["s__Sphingopyxis fribergensis", 2055, 1875, 0]]]]]]]]],
      ["c__Betaproteobacteria", 1465, 1705, 2, [
        ["o__Neisseriales", 1418, 1730, 0, [
          ["f__Neisseriaceae", 1370, 1772, 0, [
            ["g__Neisseria", 1315, 1785, 0, [["s__Neisseria subflava", 1270, 1742, 0]]]]]]],
        ["o__Burkholderiales", 1580, 1857, 2, [
          ["f__Comamonadaceae", 1770, 1865, 1, [
            ["g__Comamonas", 1735, 1775, 0, [
              ["s__Comamonas testosteroni", 1690, 1700, 0],
              ["s__Comamonas kerstersii", 1605, 1765, 0]]],
            ["g__Delftia", 1793, 1805, 1, [["s__Delftia acidovorans", 1793, 1745, 1]]],
            ["g__Hydrogenophaga", 1750, 1925, 0, [["s__Hydrogenophaga sp. NH-16", 1695, 1885, 0]]],
            ["", 1840, 1860, 0, [["", 1875, 1910, 0]]],
            ["g__Acidovorax", 1895, 2055, 0, [
              ["s__Acidovorax sp. KKS102", 1930, 2000, 0],
              ["s__Acidovorax sp. RAC01", 1980, 2045, 0],
              ["s__Acidovorax sp. JS42", 1968, 2100, 0],
              ["s__Acidovorax sp. 1608163", 1938, 2148, 0],
              ["s__Acidovorax sp. T1", 1875, 2110, 0],
              ["s__Acidovorax carolinensis", 1835, 2025, 0]]]]],
          ["f__Burkholderiaceae", 1720, 1990, 1, [
            ["g__Ralstonia", 1760, 2080, 0, [
              ["s__Ralstonia pickettii", 1795, 2130, 0],
              ["s__Ralstonia insidiosa", 1785, 2155, 0]]],
            ["g__Burkholderia", 1675, 2030, 0, [["s__Burkholderia cenocepacia", 1675, 2075, 0]]],
            ["g__Cupriavidus", 1725, 2160, 1, [
              ["s__Cupriavidus metallidurans", 1760, 2225, 1],
              ["s__Cupriavidus nantongensis", 1705, 2238, 0]]]]],
          ["f__Alcaligenaceae", 1560, 2000, 0, [
            ["g__Paraburkholderia", 1625, 1945, 0],
            ["", 1630, 2000, 0],
            ["", 1555, 2055, 0, [["", 1563, 2115, 0]]],
            ["", 1655, 2150, 0]]],
          ["f__Unknown", 1503, 2075, 2, [
            ["g__Unknown", 1460, 2020, 2, [["s__Burkholderiales bacterium YL45", 1422, 1960, 2]]],
            ["g__Methylibium", 1550, 2175, 0, [
              ["s__Methylibium sp. Pch-M", 1605, 2188, 0],
              ["s__Methylibium petroleiphilum", 1605, 2245, 0]]],
            ["g__Aquabacterium", 1520, 2225, 0, [["s__Aquabacterium olei", 1520, 2300, 0]]]]]]]]],
      ["c__Gammaproteobacteria", 1088, 1792, 3, [
        ["o__Oceanospirillales", 1070, 1728, 0, [
          ["f__Alcanivoracaceae", 985, 1730, 0, [
            ["g__Alcanivorax", 895, 1745, 0, [["s__Alcanivorax sp. NI3-2A", 855, 1770, 0]]]]]]],
        ["o__Xanthomonadales", 940, 1823, 1, [
          ["f__Xanthomonadaceae", 770, 1890, 1, [
            ["g__Stenotrophomonas", 665, 2060, 1, [
              ["s__Stenotrophomonas maltophilia", 615, 2135, 2],
              ["s__Stenotrophomonas rhizophila", 680, 2132, 0],
              ["s__Stenotrophomonas sp. LM091", 600, 2068, 0]]]]],
          ["", 895, 1802, 0]]],
        ["o__Pasteurellales", 970, 1840, 2, [
          ["f__Pasteurellaceae", 862, 1942, 2, [
            ["g__Pasteurella", 820, 2020, 2, [["s__Pasteurella multocida", 775, 2110, 2]]],
            ["g__Haemophilus", 905, 1898, 0, [["s__Haemophilus parainfluenzae", 1000, 1895, 0]]],
            ["g__Unknown", 735, 2030, 0],
            ["", 790, 1940, 0, [["", 660, 1978, 0, [["", 585, 1995, 0]]]]]]]]],
        ["o__Enterobacterales", 1055, 1945, 3, [
          ["f__Enterobacteriaceae", 935, 2200, 3, [
            ["g__Escherichia", 1005, 2175, 3, [["s__Escherichia coli", 1032, 2138, 3]]],
            ["g__Leclercia", 850, 2198, 0, [["s__Leclercia sp. W6", 800, 2200, 0]]],
            ["g__Plurallibacter", 905, 2282, 1, [
              ["s__Enterobacter hormaechei", 875, 2400, 1],
              ["s__Plurallibacter gergoviae", 950, 2350, 1],
              ["s__Enterobacter sp. SA187", 810, 2355, 0]]],
            ["g__Shigella", 990, 2265, 0, [["s__Shigella boydii", 1010, 2330, 0]]],
            ["", 910, 2140, 0, [["", 945, 2105, 0]]],
            ["", 845, 2255, 0, [["", 768, 2282, 0]]],
            ["", 1050, 2235, 0]]],
          ["f__Yersiniaceae", 950, 1980, 0, [
            ["g__Serratia", 885, 2010, 0, [["s__Serratia sp. 1D1416", 840, 2078, 0]]],
            ["g__Rahnella", 930, 2035, 0, [["s__Rahnella aquatilis", 940, 2065, 0]]],
            ["g__Yersinia", 1000, 2035, 0, [["s__Yersinia pestis", 975, 1992, 0]]]]],
          ["f__Erwiniaceae", 1120, 2035, 0, [
            ["g__Pantoea", 1110, 2115, 0, [["s__Pantoea agglomerans", 1080, 2175, 0]]],
            ["", 1075, 2055, 0, [["", 1075, 2000, 0]]]]]]],
        ["o__Pseudomonadales", 1200, 2005, 1, [
          ["f__Pseudomonadaceae", 1310, 2065, 1, [
            ["g__Pseudomonas", 1375, 2195, 1, [
              ["s__Pseudomonas aeruginosa", 1442, 2210, 1],
              ["s__Pseudomonas yamanorum", 1375, 2115, 0],
              ["s__Pseudomonas putida", 1440, 2145, 0],
              ["s__Pseudomonas sp. S829", 1310, 2235, 0],
              ["s__Pseudomonas koreensis", 1405, 2310, 0],
              ["s__Pseudomonas rhodesiae", 1360, 2315, 0],
              ["s__Pseudomonas sp. FDAARGOS_380", 1325, 2285, 0]]]]],
          ["f__Moraxellaceae", 1150, 2165, 0, [
            ["g__Acinetobacter", 1210, 2240, 0, [
              ["s__Acinetobacter johnsonii", 1225, 2130, 0],
              ["s__Acinetobacter radioresistens", 1140, 2270, 0],
              ["s__Acinetobacter pittii", 1275, 2280, 0],
              ["s__Acinetobacter schindleri", 1190, 2325, 0],
              ["s__Acinetobacter lwoffii", 1240, 2350, 0],
              ["", 1160, 2195, 0],
              ["", 1280, 2190, 0]]],
            ["g__Moraxella", 1115, 2305, 0, [
              ["s__Moraxella catarrhalis", 1065, 2365, 0],
              ["s__Moraxella osloensis", 1120, 2380, 0]]]]]]]]],
      ["c__Deltaproteobacteria", 1025, 1568, 1, [
        ["o__Desulfuromonadales", 920, 1548, 0, [
          ["f__Geobacteraceae", 800, 1548, 0, [
            ["", 720, 1580, 0, [["", 682, 1625, 0]]],
            ["", 795, 1590, 0, [["", 840, 1605, 0]]]]]]],
        ["o__Desulfobacterales", 810, 1670, 1, [
          ["f__Desulfobulbaceae", 655, 1715, 0],
          ["f__Desulfovibrionaceae", 715, 1782, 0, [
            ["g__Desulfovibrio", 650, 1855, 0, [
              ["s__Desulfovibrio piger", 645, 1915, 0],
              ["s__Desulfovibrio fairfieldensis", 710, 1868, 0]]]]]]]]],
      ["", 1235, 1580, 0, [
        ["", 1115, 1610, 0, [["", 1005, 1638, 0, [["", 930, 1667, 0, [["", 845, 1705, 0]]]]]]]]]]],
    ["p__Bacteroidetes", 1005, 1265, 6, [
      ["c__Bacteroidia", 768, 1305, 6, [
        ["o__Bacteroidales", 552, 1358, 6, [
          ["f__Muribaculaceae", 375, 1255, 6, [
            ["g__Muribaculum", 188, 1215, 5, [
              ["s__Muribaculum sp. H5", 108, 1225, 4],
              ["s__Muribaculum sp. TLL-A4", 140, 1280, 4],
              ["s__Muribaculum intestinale", 148, 1160, 4]]],
            ["g__Duncaniella", 385, 1205, 4, [
              ["s__Duncaniella sp. B8", 340, 1175, 4],
              ["s__Duncaniella sp. C9", 452, 1183, 2]]]]],
          ["f__Barnesiellaceae", 600, 1300, 0, [
            ["g__Barnesiella", 655, 1250, 0, [["s__Barnesiella viscericola", 705, 1213, 0]]]]],
          ["f__Rikenellaceae", 410, 1303, 1, [
            ["g__Alistipes", 290, 1315, 1, [
              ["s__Alistipes finegoldii", 270, 1268, 1],
              ["s__Alistipes sp. Marseille-P5997", 205, 1305, 0],
              ["s__Alistipes shahii", 235, 1358, 1]]]]],
          ["f__Prevotellaceae", 430, 1370, 0, [
            ["g__Prevotella", 240, 1440, 0, [
              ["s__Prevotella jejuni", 175, 1400, 0],
              ["s__Prevotella intermedia", 155, 1480, 0],
              ["", 200, 1520, 0]]],
            ["g__Paraprevotella", 400, 1350, 0, [["s__Paraprevotella xylaniphila", 330, 1355, 0]]]]],
          ["f__Porphyromonadaceae", 500, 1400, 0, [
            ["g__Porphyromonas", 380, 1465, 0, [["s__Porphyromonas asaccharolytica", 275, 1508, 0]]],
            ["g__Petrimonas", 390, 1405, 0, [["s__Petrimonas mucosa", 310, 1422, 0]]]]],
          ["f__Odoribacteraceae", 465, 1450, 0, [
            ["g__Odoribacter", 390, 1510, 0, [["s__Odoribacter splanchnicus", 335, 1535, 0]]],
            ["g__Butyricimonas", 480, 1495, 0, [["s__Butyricimonas faecalis", 450, 1525, 0]]]]],
          ["f__Tannerellaceae", 525, 1500, 2, [
            ["g__Parabacteroides", 390, 1578, 2, [
              ["s__Parabacteroides distasonis", 280, 1592, 2],
              ["s__Parabacteroides sp. CT06", 355, 1610, 1]]]]],
          ["f__Bacteroidaceae", 560, 1565, 4, [
            ["g__Bacteroides", 420, 1727, 4, [
              ["s__Bacteroides caecimuris", 430, 1650, 4],
              ["s__Bacteroides heparinolyticus", 470, 1630, 0],
              ["s__Bacteroides ovatus", 405, 1670, 0],
              ["s__Bacteroides sp. A1C1", 475, 1705, 2],
              ["s__Bacteroides zoogleoformans", 320, 1680, 0],
              ["s__Bacteroides fragilis", 270, 1703, 2],
              ["s__Bacteroides thetaiotaomicron", 330, 1745, 0],
              ["s__Bacteroides vulgatus", 340, 1778, 1],
              ["s__Bacteroides coprosuis", 280, 1795, 0],
              ["s__Bacteroides cellulosilyticus", 500, 1745, 0],
              ["s__Bacteroides dorei", 400, 1800, 0],
              ["", 465, 1785, 0],
              ["s__Bacteroides salanitronis", 380, 1842, 1],
              ["s__Bacteroides caccae", 315, 1850, 0]]]]]]]]],
      ["c__Flavobacteriia", 860, 1388, 1, [
        ["o__Flavobacteriales", 695, 1512, 1, [
          ["f__Flavobacteriaceae", 580, 1697, 1, [
            ["g__Capnocytophaga", 530, 1835, 1, [
              ["s__Capnocytophaga canimorsus", 440, 1880, 1],
              ["s__Capnocytophaga sputigena", 470, 1930, 0]]],
            ["g__Chryseobacterium", 550, 1812, 0, [
              ["s__Chryseobacterium indologenes", 585, 1880, 0],
              ["", 530, 1880, 0]]]]]]]]]]]]],
  ["k__Eukaryota", 1665, 1080, 1, [
    ["p__Ascomycota", 1825, 960, 1, [
      ["c__Saccharomycetes", 1940, 900, 1, [
        ["o__Saccharomycetales", 2070, 870, 1, [
          ["f__Saccharomycetaceae", 2195, 778, 1, [
            ["g__Saccharomyces", 2330, 690, 1, [
              ["s__Saccharomyces cerevisiae", 2402, 695, 1],
              ["s__Saccharomyces eubayanus", 2380, 628, 0]]]]],
          ["", 2165, 825, 0, [["", 2235, 797, 0, [["", 2305, 800, 0, [["", 2360, 775, 0]]]]]]]]]]],
      ["c__Eurotiomycetes", 1920, 950, 0, [
        ["o__Eurotiales", 2015, 925, 0, [
          ["f__Aspergillaceae", 2090, 910, 0, [
            ["g__Aspergillus", 2225, 890, 0, [["s__Aspergillus oryzae", 2310, 878, 0]]]]]]]]],
      ["c__Sordariomycetes", 1885, 990, 0, [
        ["o__Hypocreales", 1970, 975, 0, [
          ["f__Nectriaceae", 2170, 925, 0, [
            ["g__Fusarium", 2390, 895, 0, [
              ["s__Fusarium verticillioides", 2425, 820, 0],
              ["", 2470, 878, 0],
              ["", 2433, 932, 0]]]]]]]]]]],
    ["p__Unknown", 1750, 1050, 0, [
      ["", 1830, 1065, 0, [
        ["f__Entamoebidae", 1940, 1065, 0, [
          ["g__Entamoeba", 2030, 1030, 0]]]]]]],
    ["p__Platyhelminthes", 1745, 1112, 0, [
      ["c__Trematoda", 1840, 1127, 0, [
        ["o__Strigeidida", 1940, 1100, 0, [
          ["f__Schistosomatidae", 2050, 1072, 0, [
            ["g__Schistosoma", 2160, 1040, 0, [["s__Schistosoma japonicum", 2185, 1008, 0]]]]]]]]]]],
    ["p__Chordata", 1715, 1148, 2, [
      ["c__Mammalia", 1787, 1172, 2, [
        ["o__Primates", 1898, 1165, 2, [
          ["f__Hominidae", 2005, 1122, 2, [
            ["g__Homo", 2140, 1087, 2, [["s__Homo sapiens", 2202, 1055, 2]]]]]]]]]]],
    ["", 1620, 1135, 0, [
      ["", 1640, 1190, 0, [
        ["", 1705, 1220, 0, [
          ["", 1765, 1232, 0, [
            ["", 1830, 1232, 0, [
              ["", 1880, 1225, 0, [
                ["o__Orlenales", 2010, 1180, 0, [
                  ["", 2090, 1140, 0, [["", 2170, 1130, 0, [["", 2220, 1105, 0] ]] ]] ]] ]] ]] ]] ]] ]] ]] ]],
  ["s__Viruses", 1640, 1250, 0, [
    ["f__Unknown", 1780, 1290, 0, [
      ["f__Unknown", 1940, 1225, 0, [
        ["f__Retroviridae", 2260, 1165, 0, [
          ["g__Gammaretrovirus", 2410, 1118, 0, [
            ["s__Abelson murine leukemia virus", 2465, 1045, 0],
            ["s__Mus musculus mobilized endogenous polytropic provirus", 2320, 1060, 0],
            ["", 2503, 1120, 0],
            ["", 2455, 1165, 0] ]] ]] ]] ]] ]] ]];

/* ---------- helpers ---------- */
const txt = (x: number, y: number, size: number, weight: number, scale: number, family: string, s: string, right = false) => (
  <div key={s + x + y} style={{
    position: "absolute", left: right ? undefined : x, right: right ? 1916 - x : undefined, top: y, fontSize: size, fontWeight: weight, fontFamily: family,
    lineHeight: 1, whiteSpace: "nowrap", color: "#000",
    transform: `translateY(-50%) scaleX(${scale})`, transformOrigin: right ? "right center" : "left center",
  }}>{s}</div>
);

function Pie({ left, top, size, labels, values, colors }: any) {
  const ref = useRef<HTMLCanvasElement>(null);
  useEffect(() => {
    const chart = new Chart(ref.current!, {
      type: "pie",
      data: { labels, datasets: [{ data: values, backgroundColor: colors, borderWidth: 0.6, borderColor: "rgba(255,255,255,0.45)" }] },
      options: {
        animation: false, responsive: false, events: [],
        layout: { padding: 0 },
        plugins: { legend: { display: false }, tooltip: { enabled: false } },
      },
    });
    return () => chart.destroy();
  }, []);
  return <canvas ref={ref} width={size} height={size} style={{ position: "absolute", left, top, width: size, height: size }} />;
}

function Tree({ left, top, width, height, tree, range, edgeW, nodeR, fonts }: any) {
  const ref = useRef<HTMLCanvasElement>(null);
  useEffect(() => {
    const nodes: { l: string; x: number; y: number; t: number }[] = [];
    const edges: { x: number; y: number }[][] = tierColors.map(() => []);
    const walk = (n: T) => {
      nodes.push({ l: n[0], x: n[1], y: n[2], t: n[3] });
      (n[4] || []).forEach((c) => {
        edges[c[3]].push({ x: n[1], y: n[2] }, { x: c[1], y: c[2] }, { x: NaN, y: NaN });
        walk(c);
      });
    };
    walk(tree);
    nodes.sort((a, b) => a.t - b.t);
    const labelPlugin = {
      id: "taxonLabels",
      afterDatasetsDraw(c: any) {
        const g = c.ctx;
        g.save();
        g.fillStyle = "#000";
        g.textAlign = "center";
        g.textBaseline = "middle";
        nodes.forEach((n) => {
          if (!n.l) return;
          g.font = `${fonts[n.t]}px "Liberation Sans"`;
          g.fillText(n.l, c.scales.x.getPixelForValue(n.x), c.scales.y.getPixelForValue(n.y));
        });
        g.restore();
      },
    };
    const chart = new Chart(ref.current!, {
      type: "scatter",
      data: {
        datasets: [
          ...edges.map((d, t) => ({
            data: d, showLine: true, borderColor: tierColors[t], borderWidth: edgeW[t], pointRadius: 0,
            borderCapStyle: "round", borderJoinStyle: "round", spanGaps: false, tension: 0, order: 100 - t,
          })),
          {
            data: nodes.map((n) => ({ x: n.x, y: n.y })), showLine: false, order: 1,
            pointRadius: nodes.map((n) => nodeR[n.t]), pointBorderWidth: 0,
            pointBackgroundColor: nodes.map((n) => tierColors[n.t]),
          },
        ],
      } as any,
      options: {
        animation: false, responsive: false, events: [],
        layout: { padding: 0 },
        scales: {
          x: { type: "linear", display: false, min: range[0], max: range[1] },
          y: { type: "linear", display: false, min: range[2], max: range[3], reverse: true },
        },
        plugins: { legend: { display: false }, tooltip: { enabled: false } },
      },
      plugins: [labelPlugin],
    } as any);
    return () => chart.destroy();
  }, []);
  return <canvas ref={ref} width={width} height={height} style={{ position: "absolute", left, top, width, height }} />;
}

const wedgeGradient = "linear-gradient(#BEBEB8 0%, #B8B8A8 6%, #B8DE29 17%, #7AD151 32%, #47C16E 50%, #1FA187 72%, #26708C 100%)";
const wedge = (x0: number, x1: number, x2: number, y0: number, y1: number) => (
  <div style={{
    position: "absolute", left: x0, top: y0, width: x2 - x0, height: y1 - y0, background: wedgeGradient,
    clipPath: `polygon(0 0, ${x1 - x0}px 0, 100% 100%, 0 100%)`,
  }} />
);

const BODY = "Lato";
const ARIAL = '"Liberation Sans"';
const box = (x: number, y: number, w: number, h: number, s: string, size: number) => (
  <div style={{
    position: "absolute", left: x, top: y, width: w, height: h, boxSizing: "border-box", border: "1px solid #222",
    fontFamily: BODY, fontWeight: 900, fontSize: size, lineHeight: `${h - 6}px`, textAlign: "center", color: "#000",
  }}>{s}</div>
);
const swatch = (x: number, cy: number, s: number, color: string) => (
  <div key={color + cy} style={{ position: "absolute", left: x, top: cy - s / 2, width: s, height: s, background: color }} />
);

const phylumRows = [252.7, 302, 351.2, 400.5, 449.8, 499];
const familyRows = [824.5, 872.8, 921.6, 969.9, 1018, 1067, 1115, 1163.5, 1212, 1260.6, 1309, 1357.6, 1406.5, 1454.7, 1503, 1551.8, 1600];
const spfKeyRows = [2240, 2278, 2316, 2354, 2392, 2430, 2467];
const nonKeyRows = [2230, 2269, 2309, 2349, 2389, 2429, 2468];

export default function App() {
  return (
    <div style={{ position: "absolute", left: 0, top: 0, width: 1916, height: 2479, overflow: "hidden", background: "#fff" }}>
      <Pie left={15} top={90} size={676} labels={phylumLabels} values={phylumSpf} colors={phylumColors} />
      <Pie left={844} top={85} size={676} labels={phylumLabels} values={phylumNonSpf} colors={phylumColors} />
      <Pie left={7} top={849} size={676} labels={familyLabels} values={familySpf} colors={familyColors} />
      <Pie left={836} top={852} size={676} labels={familyLabels} values={familyNonSpf} colors={familyColors} />

      <Tree left={0} top={1600} width={900} height={879} tree={spfTree} range={[0, 1568, 0, 1568]}
        edgeW={[4, 4, 4.5, 5, 6, 7.5, 12, 14]} nodeR={[4.5, 4.5, 5, 5.5, 6.5, 8, 11, 15]} fonts={[4.4, 4.4, 5, 6, 7.5, 8.5, 9.5, 11.5]} />
      <Tree left={900} top={1640} width={1016} height={839} tree={nonSpfTree} range={[-90, 2958, -60, 2457]}
        edgeW={[4.2, 5, 5, 6, 7, 8, 10, 12]} nodeR={[5, 5, 5, 5.5, 6.5, 7.5, 10.5, 13]} fonts={[4.6, 4.6, 5, 5.3, 6, 7, 8.8, 11]} />

      <div style={{ position: "absolute", left: 1679, top: 2183, width: 237, height: 296, background: "#fff" }} />

      {box(10, 2, 50, 50, "a", 62)}
      {box(7, 764, 58, 66, "b", 62)}
      {box(12, 1614, 50, 49, "c", 58)}
      {txt(297, 28, 58, 900, 0.92, BODY, "SPF")}
      {txt(1042, 28, 58, 900, 0.92, BODY, "NON SPF")}
      {txt(1539, 184, 47, 900, 0.93, BODY, "PHYLUM")}
      {txt(1547, 759, 47, 900, 0.96, BODY, "FAMILY")}
      {phylumLabels.map((s, i) => swatch(1539, phylumRows[i], 19, phylumColors[i]))}
      {phylumLabels.map((s, i) => txt(1568, phylumRows[i] - 1.5, 32, 400, 1.02, BODY, s))}
      {familyLabels.map((s, i) => swatch(1540, familyRows[i], 20, familyColors[i]))}
      {familyLabels.map((s, i) => txt(1570, familyRows[i] - 1.5, 32, 400, 1.055, BODY, s))}

      {txt(858, 2204, 25, 400, 1, ARIAL, "Nodes")}
      {wedge(859, 871, 887, 2239, 2466)}
      {spfKeyTicks.map((s, i) => txt(855, spfKeyRows[i], 20, 400, 1, ARIAL, s, true))}
      {txt(1786, 2193, 25, 400, 1, ARIAL, "Nodes")}
      {wedge(1786, 1796, 1812, 2229, 2468)}
      {nonSpfKeyTicks.map((s, i) => txt(1782, nonKeyRows[i], 21, 400, 1, ARIAL, s, true))}
    </div>
  );
}
